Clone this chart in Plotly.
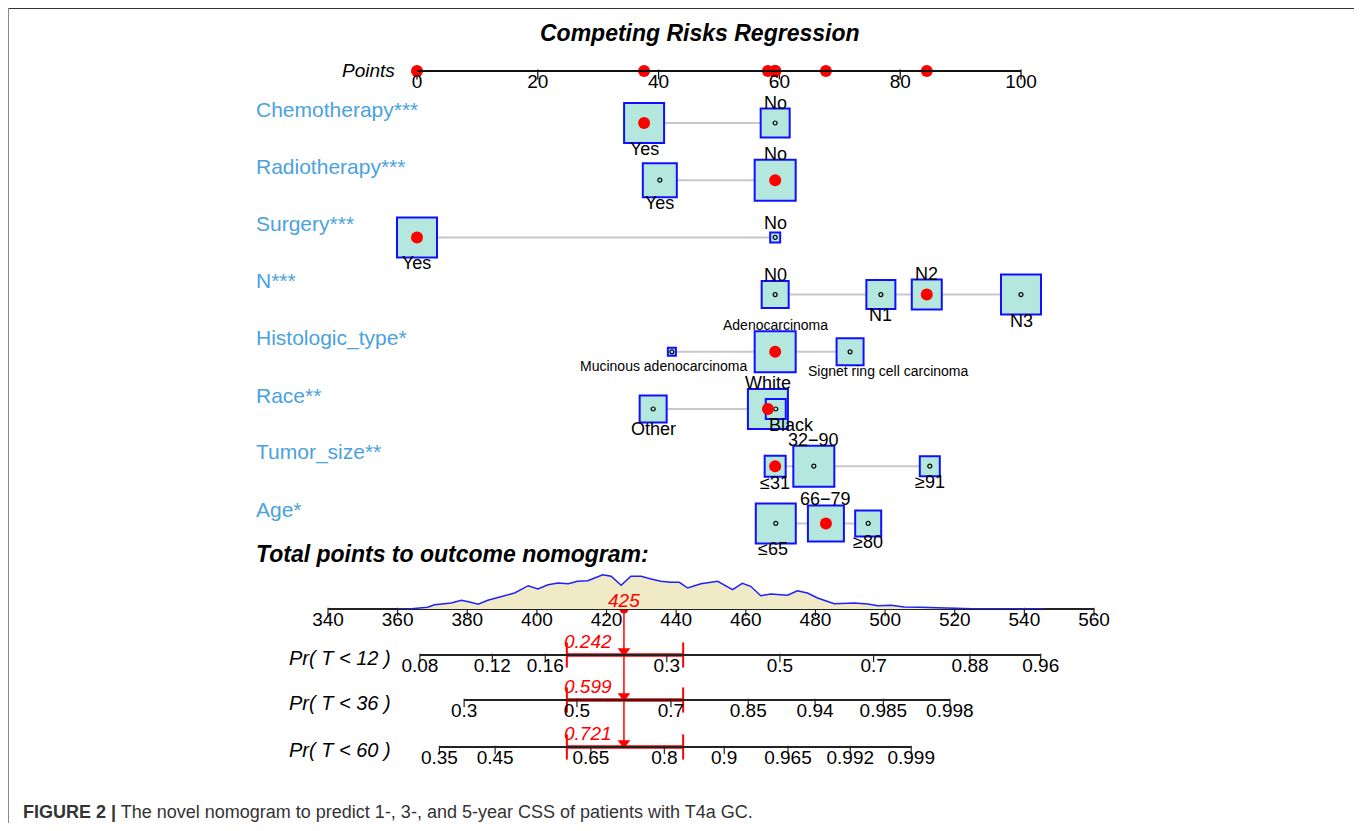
import plotly.graph_objects as go

# ---------------- data ----------------
variables = ["Chemotherapy***", "Radiotherapy***", "Surgery***", "N***",
             "Histologic_type*", "Race**", "Tumor_size**", "Age*"]
levels = [["Yes", "No"], ["Yes", "No"], ["Yes", "No"], ["N0", "N1", "N2", "N3"],
          ["Mucinous adenocarcinoma", "Adenocarcinoma", "Signet ring cell carcinoma"],
          ["Other", "White", "Black"], ["≤31", "32−90", "≥91"], ["≤65", "66−79", "≥80"]]
level_points = [[37.6, 59.3], [40.2, 59.3], [0.0, 59.3], [59.3, 76.8, 84.4, 100.0],
                [42.2, 59.3, 71.7], [39.1, 58.1, 59.4], [59.3, 65.7, 84.9], [59.4, 67.7, 74.7]]
level_box = [[40, 29], [34, 41], [40, 10], [27, 29, 30, 40],
             [8, 41, 27], [27, 40, 20], [21, 41, 20], [40, 36, 26]]
label_side = [["below", "above"], ["below", "above"], ["below", "above"],
              ["above", "below", "above", "below"], ["below", "above", "below"],
              ["below", "above", "below"], ["below", "above", "below"], ["below", "above", "below"]]
selected_level = ["Yes", "No", "Yes", "N2", "Adenocarcinoma", "White", "≤31", "66−79"]

points_ticks = [0, 20, 40, 60, 80, 100]
total_ticks = [340, 360, 380, 400, 420, 440, 460, 480, 500, 520, 540, 560]

density_total = [360, 364, 368.6, 370.6, 375.4, 378.3, 380.7, 383.1, 385.9, 389.8, 393.6,
                 397.5, 400.3, 403.2, 406.1, 409.0, 411.7, 414.6, 416.5, 418.9, 421.3, 424.2,
                 427.0, 429.9, 432.8, 435.6, 438.5, 440.9, 443.3, 447.1, 451.9, 456.2, 459.0,
                 461.4, 464.3, 467.2, 472.0, 474.8, 477.7, 480.6, 485.4, 491.2, 495.0, 497.9,
                 501.7, 505.5, 510.0, 514.2, 519.0, 525.0, 532.0, 538.1, 543.0, 546.0]
density_height = [0, 0.3, 1.7, 4.3, 6.0, 8.7, 7.0, 4.7, 8.7, 12.7, 16.0,
                  23.3, 20.0, 24.3, 26.0, 25.3, 27.7, 28.3, 31.0, 34.3, 32.7, 23.7,
                  32.7, 32.7, 30.0, 27.7, 26.7, 26.7, 21.0, 25.3, 27.7, 19.3, 25.7,
                  22.7, 13.3, 15.0, 13.7, 18.3, 16.0, 11.0, 5.3, 6.0, 5.0, 3.3,
                  3.7, 2.0, 1.8, 1.3, 0.3, 0.2, 0.3, 0.7, 0.3, 0]

total_score = 425
ci_total = [408.6, 442.0]
outcome_names = ["Pr( T < 12 )", "Pr( T < 36 )", "Pr( T < 60 )"]
outcome_prob = [0.242, 0.599, 0.721]

pr12_labels = ["0.08", "0.12", "0.16", "0.3", "0.5", "0.7", "0.88", "0.96"]
pr12_at = [366.4, 387.2, 402.4, 437.3, 469.8, 496.7, 524.4, 544.7]
pr36_labels = ["0.3", "0.5", "0.7", "0.85", "0.94", "0.985", "0.998"]
pr36_at = [379.1, 411.5, 438.5, 460.7, 479.9, 499.5, 518.6]
pr60_labels = ["0.35", "0.45", "0.65", "0.8", "0.9", "0.965", "0.992", "0.999"]
pr60_at = [372.0, 388.0, 415.5, 436.6, 453.8, 472.1, 490.0, 507.5]

# ---------------- layout constants (window pixel coordinates) ----------------
PAGE_OFF = 8                     # body margin of the html page
WF, HF = 1362 - 2 * PAGE_OFF, 831 - 2 * PAGE_OFF
FONT = "Liberation Sans, Arial, sans-serif"
PTS_PX = (417, 1021)
TOT_PX = (328, 1094)
Y_POINTS = 71
ROW_Y0, ROW_DY = 123, 57.2
Y_TOTAL = 609
Y_PR = [655, 700, 747]
VAR_BLUE = "#4AA2DE"
BOX_FILL = "#B4E8DE"
BOX_LINE = "#1010FF"
RED = "#FF0000"
TICK_STANDOFF = -7
level_font = [18, 18, 18, 18, 14, 18, 18, 18]
label_nudge = {"Mucinous adenocarcinoma": -8, "Signet ring cell carcinoma": 38, "Black": 16, "≤65": -3}


def tot_px(v):
    return TOT_PX[0] + (v - total_ticks[0]) / (total_ticks[-1] - total_ticks[0]) * (TOT_PX[1] - TOT_PX[0])


def px(xpx):
    return (xpx - PAGE_OFF) / WF


def py(ypx):
    return 1 - (ypx - PAGE_OFF) / HF


fig = go.Figure()
annotations = []

row_y = [ROW_Y0 + i * ROW_DY for i in range(len(variables))]

# connectors
cx, cy = [], []
for i, pts in enumerate(level_points):
    cx += [min(pts), max(pts), None]
    cy += [row_y[i], row_y[i], None]
fig.add_trace(go.Scatter(x=cx, y=cy, mode="lines", line=dict(color="#C8C8C8", width=2),
                         xaxis="x", yaxis="y", hoverinfo="skip"))

# boxes
bx, by, bs = [], [], []
sel_x, sel_y = [], []
for i, pts in enumerate(level_points):
    for j, p in enumerate(pts):
        bx.append(p)
        by.append(row_y[i])
        bs.append(level_box[i][j])
        if levels[i][j] == selected_level[i]:
            sel_x.append(p)
            sel_y.append(row_y[i])
        half = level_box[i][j] / 2
        off = max(half + 6, 14)
        yl = row_y[i] - off if label_side[i][j] == "above" else row_y[i] + off
        annotations.append(dict(x=p, y=yl, xref="x", yref="y", text=levels[i][j], showarrow=False,
                                xanchor="center", yanchor="middle",
                                xshift=label_nudge.get(levels[i][j], 0),
                                font=dict(family=FONT, size=level_font[i], color="black")))
    annotations.append(dict(x=px(254), y=row_y[i] - 14, xref="paper", yref="y", text=variables[i],
                            showarrow=False, xanchor="left", yanchor="middle",
                            font=dict(family=FONT, size=21, color=VAR_BLUE)))

fig.add_trace(go.Scatter(x=bx, y=by, mode="markers", cliponaxis=False,
                         marker=dict(symbol="square", size=bs, color=BOX_FILL, opacity=1,
                                     line=dict(color=BOX_LINE, width=2)),
                         xaxis="x", yaxis="y", hoverinfo="skip"))
fig.add_trace(go.Scatter(x=bx, y=by, mode="markers", cliponaxis=False,
                         marker=dict(symbol="circle-open", size=4, color="black", line=dict(width=1.2)),
                         xaxis="x", yaxis="y", hoverinfo="skip"))
fig.add_trace(go.Scatter(x=sel_x, y=sel_y, mode="markers", cliponaxis=False,
                         marker=dict(symbol="circle", size=12, color=RED, opacity=1),
                         xaxis="x", yaxis="y", hoverinfo="skip"))
# points axis ticks + red dots
fig.add_trace(go.Scatter(x=points_ticks, y=[Y_POINTS + 3.5] * len(points_ticks), mode="markers",
                         cliponaxis=False,
                         marker=dict(symbol="line-ns", size=7, line=dict(width=1.3, color="#111")),
                         xaxis="x", yaxis="y", hoverinfo="skip"))
fig.add_trace(go.Scatter(x=sel_x, y=[Y_POINTS] * len(sel_x), mode="markers", cliponaxis=False,
                         marker=dict(symbol="circle", size=12, color=RED, opacity=1),
                         xaxis="x", yaxis="y", hoverinfo="skip"))

# density on total axis
fig.add_trace(go.Scatter(x=density_total, y=density_height, mode="lines", fill="tozeroy",
                         fillcolor="#F0EBC6", line=dict(color="#1F1FFF", width=1.5),
                         xaxis="x2", yaxis="y2", hoverinfo="skip"))
fig.add_trace(go.Scatter(x=total_ticks, y=[Y_TOTAL + 3] * len(total_ticks), mode="markers",
                         cliponaxis=False,
                         marker=dict(symbol="line-ns", size=6, line=dict(width=1.2, color="#222")),
                         xaxis="x2", yaxis="y", hoverinfo="skip"))

# probability axes
pr_sets = [(pr12_at, pr12_labels), (pr36_at, pr36_labels), (pr60_at, pr60_labels)]
axis_common = dict(anchor="free", showline=True, linecolor="#222", linewidth=1.5, ticks="",
                   showgrid=False, zeroline=False, fixedrange=True, automargin=False,
                   ticklabelstandoff=TICK_STANDOFF,
                   tickfont=dict(family=FONT, size=19, color="black"))
layout_axes = {}
for k, (at, labs) in enumerate(pr_sets):
    name = "x%d" % (k + 3)
    layout_axes["xaxis%d" % (k + 3)] = dict(
        domain=[px(tot_px(at[0])), px(tot_px(at[-1]))], range=[at[0], at[-1]],
        position=py(Y_PR[k]), tickvals=at, ticktext=labs, tickmode="array", **axis_common)
    fig.add_trace(go.Scatter(x=at, y=[Y_PR[k] + 3] * len(at), mode="markers", cliponaxis=False,
                             marker=dict(symbol="line-ns", size=6, line=dict(width=1.2, color="#222")),
                             xaxis=name, yaxis="y", hoverinfo="skip"))
    annotations.append(dict(x=px(287), y=Y_PR[k] + 3, xref="paper", yref="y",
                            text="<i>%s</i>" % outcome_names[k], showarrow=False,
                            xanchor="left", yanchor="middle",
                            font=dict(family=FONT, size=20, color="black")))
    # CI segment and arrow
    fig.add_trace(go.Scatter(x=ci_total, y=[Y_PR[k]] * 2, mode="lines+markers", cliponaxis=False,
                             line=dict(color=RED, width=3.5),
                             marker=dict(symbol="line-ns", size=18, line=dict(width=2, color=RED)),
                             xaxis="x2", yaxis="y", hoverinfo="skip"))
    fig.add_trace(go.Scatter(x=[total_score], y=[Y_PR[k] - 4], mode="markers", cliponaxis=False,
                             marker=dict(symbol="triangle-down", size=11, color=RED),
                             xaxis="x2", yaxis="y", hoverinfo="skip"))
    annotations.append(dict(x=ci_total[0], y=Y_PR[k] - 14, xref="x2", yref="y",
                            text="<i>%.3f</i>" % outcome_prob[k], showarrow=False,
                            xanchor="left", yanchor="middle", xshift=-5,
                            font=dict(family=FONT, size=19, color=RED)))

# red vertical line and marker on total axis
fig.add_trace(go.Scatter(x=[total_score, total_score], y=[Y_TOTAL, Y_PR[-1]], mode="lines",
                         line=dict(color=RED, width=1.5), xaxis="x2", yaxis="y", hoverinfo="skip"))
fig.add_trace(go.Scatter(x=[total_score], y=[Y_TOTAL], mode="markers", cliponaxis=False,
                         marker=dict(symbol="circle", size=9, color=RED),
                         xaxis="x2", yaxis="y", hoverinfo="skip"))
annotations.append(dict(x=total_score, y=Y_TOTAL - 9, xref="x2", yref="y",
                        text="<i>%d</i>" % total_score, showarrow=False,
                        xanchor="center", yanchor="middle",
                        font=dict(family=FONT, size=19, color=RED)))

# titles / texts
annotations += [
    dict(x=px(700), y=py(33), xref="paper", yref="paper",
         text="<b><i>Competing Risks Regression</i></b>", showarrow=False,
         xanchor="center", yanchor="middle", font=dict(family=FONT, size=23, color="black")),
    dict(x=px(397), y=py(70), xref="paper", yref="paper", text="<i>Points</i>", showarrow=False,
         xanchor="right", yanchor="middle", font=dict(family=FONT, size=19, color="black")),
    dict(x=px(254), y=py(554), xref="paper", yref="paper",
         text="<b><i>Total points to outcome nomogram:</i></b>", showarrow=False,
         xanchor="left", yanchor="middle", font=dict(family=FONT, size=23, color="black")),
    dict(x=px(21), y=py(812), xref="paper", yref="paper",
         text="<b>FIGURE 2 |</b> The novel nomogram to predict 1-, 3-, and 5-year CSS of patients with T4a GC.",
         showarrow=False, xanchor="left", yanchor="middle",
         font=dict(family=FONT, size=18, color="#333333")),
]

shapes = [
    dict(type="line", xref="paper", yref="paper", x0=px(8), x1=px(1356), y0=py(8), y1=py(8),
         line=dict(color="#333333", width=2)),
    dict(type="line", xref="paper", yref="paper", x0=px(8), x1=px(8), y0=py(8), y1=0,
         line=dict(color="#888888", width=2)),
    dict(type="line", xref="paper", yref="paper", x0=px(1356), x1=px(1356), y0=py(8), y1=0,
         line=dict(color="#888888", width=2)),
]

fig.update_layout(
    width=WF, height=HF, margin=dict(l=0, r=0, t=0, b=0, pad=0, autoexpand=False),
    paper_bgcolor="white", plot_bgcolor="rgba(0,0,0,0)",
    showlegend=False, hovermode=False,
    xaxis=dict(domain=[px(PTS_PX[0]), px(PTS_PX[1])], range=[0, 100], anchor="free",
               position=py(Y_POINTS), showline=True, linecolor="#111", linewidth=2, ticks="",
               tickvals=points_ticks, tickmode="array", showgrid=False, zeroline=False,
               fixedrange=True, automargin=False, ticklabelstandoff=TICK_STANDOFF,
               tickfont=dict(family=FONT, size=19, color="black")),
    yaxis=dict(domain=[0, 1], range=[PAGE_OFF + HF, PAGE_OFF], visible=False, fixedrange=True,
               automargin=False),
    xaxis2=dict(domain=[px(TOT_PX[0]), px(TOT_PX[1])], range=[total_ticks[0], total_ticks[-1]],
                position=py(Y_TOTAL), tickvals=total_ticks, tickmode="array", **axis_common),
    yaxis2=dict(domain=[py(Y_TOTAL), py(Y_TOTAL - 40)], range=[0, 40], anchor="x2",
                visible=False, fixedrange=True, automargin=False),
    annotations=annotations, shapes=shapes,
    **layout_axes,
)

fig.write_html("out.html")
